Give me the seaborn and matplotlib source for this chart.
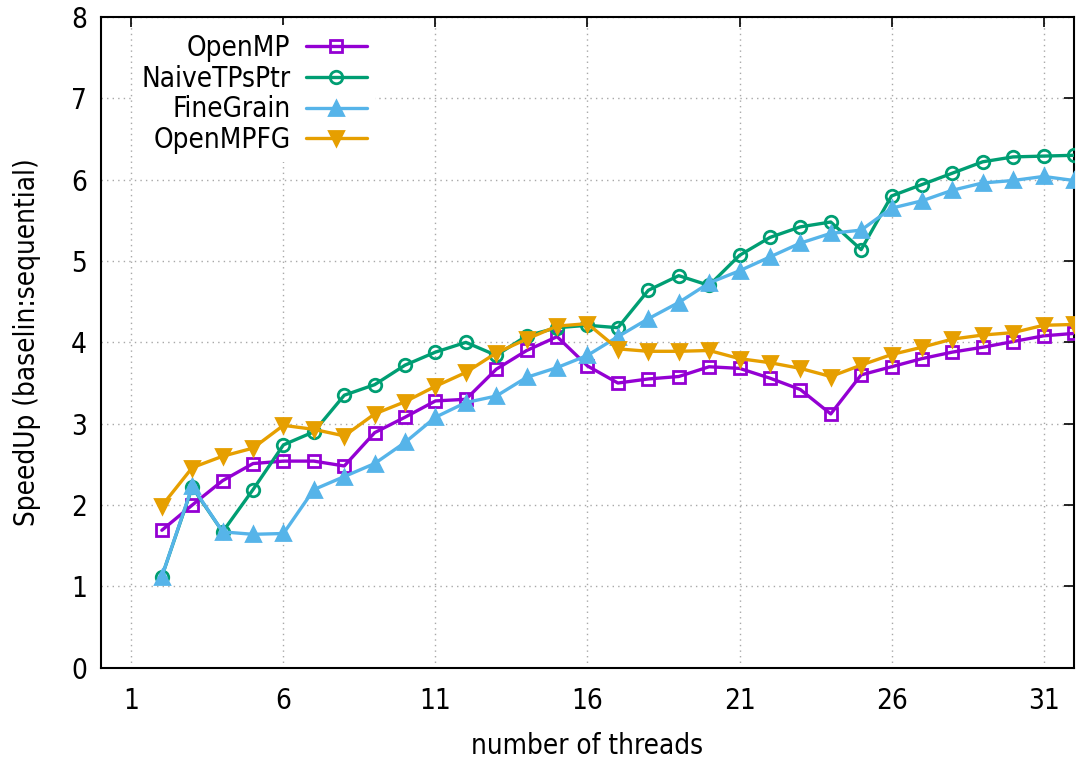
import matplotlib
matplotlib.use("Agg")
import matplotlib.pyplot as plt
import seaborn as sns

threads = [2, 3, 4, 5, 6, 7, 8, 9, 10, 11, 12, 13, 14, 15, 16, 17,
           18, 19, 20, 21, 22, 23, 24, 25, 26, 27, 28, 29, 30, 31, 32]

openmp = [1.69, 2.00, 2.30, 2.51, 2.54, 2.54, 2.48, 2.89, 3.08, 3.28, 3.30,
          3.67, 3.90, 4.07, 3.71, 3.50, 3.55, 3.58, 3.70, 3.68, 3.56, 3.42,
          3.12, 3.60, 3.70, 3.80, 3.88, 3.94, 4.01, 4.08, 4.11]
naive = [1.12, 2.22, 1.67, 2.19, 2.74, 2.90, 3.35, 3.48, 3.72, 3.88, 4.00,
         3.84, 4.08, 4.18, 4.21, 4.18, 4.64, 4.82, 4.70, 5.07, 5.29, 5.42,
         5.48, 5.14, 5.80, 5.94, 6.08, 6.22, 6.28, 6.29, 6.30]
finegrain = [1.12, 2.23, 1.67, 1.64, 1.65, 2.19, 2.35, 2.51, 2.77, 3.08, 3.26,
             3.34, 3.57, 3.69, 3.84, 4.07, 4.29, 4.49, 4.73, 4.88, 5.05, 5.22,
             5.34, 5.38, 5.65, 5.74, 5.87, 5.96, 5.99, 6.04, 5.99]
openmpfg = [1.99, 2.46, 2.60, 2.70, 2.98, 2.93, 2.85, 3.12, 3.27, 3.46, 3.63,
            3.87, 4.04, 4.20, 4.23, 3.92, 3.89, 3.89, 3.90, 3.80, 3.75, 3.68,
            3.58, 3.72, 3.85, 3.94, 4.04, 4.09, 4.12, 4.21, 4.22]

labels = ["OpenMP", "NaiveTPsPtr", "FineGrain", "OpenMPFG"]
xticks = [1, 6, 11, 16, 21, 26, 31]
yticks = [0, 1, 2, 3, 4, 5, 6, 7, 8]

sns.set_theme(style="white")
plt.rcParams["font.family"] = ["DejaVu Sans"]
plt.rcParams["font.stretch"] = "condensed"
FS = 20

fig = plt.figure(figsize=(10.76, 7.63), dpi=100)
ax = fig.add_axes([0.0939, 0.1249, 0.9042, 0.8528])

styles = [
    (openmp, "#9400d3", "s", "none", 9),
    (naive, "#009e73", "o", "none", 9),
    (finegrain, "#56b4e9", "^", "#56b4e9", 10.5),
    (openmpfg, "#e69f00", "v", "#e69f00", 10.5),
]
for i, (vals, col, mk, mfc, ms) in enumerate(styles):
    sns.lineplot(x=threads, y=vals, ax=ax, color=col, marker=mk,
                 markersize=ms, markerfacecolor=mfc, markeredgecolor=col,
                 markeredgewidth=2.0, linewidth=2.4, label=labels[i],
                 zorder=3 + i)

ax.set_xlim(0, 32)
ax.set_ylim(0, 8)
ax.set_xticks(xticks)
ax.set_yticks(yticks)
ax.set_axisbelow(True)
ax.grid(True, linestyle=(0, (1, 3)), color="#a8a8a8", linewidth=1.0)
ax.tick_params(direction="in", length=7.5, width=1.2, top=True, right=True,
               labelsize=FS, colors="black")
ax.tick_params(axis="x", pad=14)
ax.tick_params(axis="y", pad=10)
for s in ax.spines.values():
    s.set_color("black")
    s.set_linewidth(1.5)

ax.set_xlabel("number of threads", fontsize=FS, labelpad=12, color="black")
ax.set_ylabel("SpeedUp (baselin:sequential)", fontsize=FS, labelpad=22,
              color="black")

leg = ax.legend(loc="upper right", bbox_to_anchor=(0.2816, 0.987),
                markerfirst=False, frameon=True, framealpha=1,
                edgecolor="none", facecolor="white", fancybox=False,
                fontsize=FS, handlelength=2.2, handletextpad=0.55,
                labelspacing=0.1, borderpad=0.3, borderaxespad=0)
leg.set_zorder(20)
for t in leg.get_texts():
    t.set_color("black")

fig.savefig("out.png", dpi=100)
